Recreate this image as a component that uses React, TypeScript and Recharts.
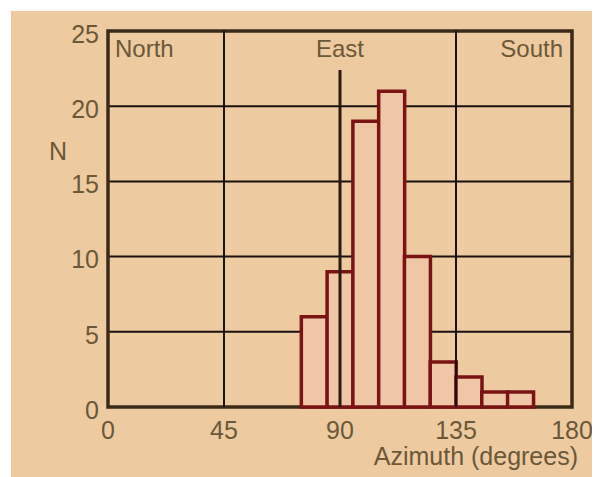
import React from "react";
import {
  BarChart,
  Bar,
  XAxis,
  YAxis,
  CartesianGrid,
  ReferenceLine,
  ReferenceArea,
  Label,
} from "recharts";

// histogram bins, 10 degrees wide, keyed by bin centre
const binCenters = [80, 90, 100, 110, 120, 130, 140, 150, 160];
const counts = [6, 9, 19, 21, 10, 3, 2, 1, 1];

const xTicks = [0, 45, 90, 135, 180];
const yTicks = [0, 5, 10, 15, 20, 25];
const gridAngles = [45, 135];
const directions = ["North", "East", "South"];
const directionAngles = [0, 90, 180];
const eastLineTop = 22.4;

const BG = "#eecaa0";
const TEXT = "#6b5838";
const BAR = "#7a1414";
const FRAME = "#3b2a18";
const FONT = "'Liberation Sans', Arial, sans-serif";

const data = binCenters.map((c, i) => ({ azimuth: c, n: counts[i] }));

const dirLabel = (idx: number) => (p: any) => {
  const vb = p.viewBox;
  const anchor = idx === 0 ? "start" : idx === 1 ? "middle" : "end";
  const dx = idx === 0 ? 7 : idx === 1 ? 0 : -9;
  return (
    <text
      x={vb.x + dx}
      y={vb.y + 26}
      textAnchor={anchor}
      fill={TEXT}
      fontSize={24}
      fontFamily={FONT}
    >
      {directions[idx]}
    </text>
  );
};

export default function App() {
  return (
    <div style={{ marginLeft: 3, marginTop: 3, width: 589, height: 466, background: BG }}>
      <BarChart
        width={589}
        height={466}
        data={data}
        margin={{ top: 20, right: 28, left: 0, bottom: 21 }}
        barCategoryGap={0}
        barGap={0}
        style={{ fontFamily: FONT }}
      >
        <CartesianGrid
          vertical={false}
          stroke="#1a1010"
          strokeWidth={2}
          strokeOpacity={1}
        />
        {gridAngles.map((a) => (
          <ReferenceLine key={a} x={a} stroke="#1a1010" strokeWidth={2} />
        ))}
        <ReferenceLine
          segment={[
            { x: 90, y: 0 },
            { x: 90, y: eastLineTop },
          ]}
          stroke="#2a1a10"
          strokeWidth={3}
        />
        <ReferenceArea
          x1={0}
          x2={180}
          y1={0}
          y2={25}
          fill="none"
          stroke={FRAME}
          strokeWidth={3.5}
          strokeOpacity={1}
        />
        {directionAngles.map((a, i) => (
          <ReferenceLine
            key={"d" + a}
            segment={[
              { x: a, y: 25 },
              { x: a, y: 25 },
            ]}
            stroke="none"
            label={{ content: dirLabel(i) }}
          />
        ))}
        <XAxis
          dataKey="azimuth"
          type="number"
          domain={[0, 180]}
          ticks={xTicks}
          allowDataOverflow
          axisLine={false}
          tickLine={false}
          tickSize={6}
          tickMargin={8}
          height={49}
          tick={{ fill: TEXT, fontSize: 25 }}
        >
          <Label
            content={(p: any) => (
              <text
                x={p.viewBox.x + p.viewBox.width + 6}
                y={p.viewBox.y + 58}
                textAnchor="end"
                fill={TEXT}
                fontSize={25}
                fontFamily={FONT}
              >
                Azimuth (degrees)
              </text>
            )}
          />
        </XAxis>
        <YAxis
          type="number"
          domain={[0, 25]}
          ticks={yTicks}
          axisLine={false}
          tickLine={false}
          tickSize={6}
          tickMargin={3}
          width={97}
          tick={{ fill: TEXT, fontSize: 25, dy: 3 }}
        >
          <Label
            content={(p: any) => (
              <text
                x={47}
                y={p.viewBox.y + 129}
                textAnchor="middle"
                fill={TEXT}
                fontSize={25}
                fontFamily={FONT}
              >
                N
              </text>
            )}
          />
        </YAxis>
        <Bar
          dataKey="n"
          fill="#f0c7a6"
          stroke={BAR}
          strokeWidth={3.5}
          isAnimationActive={false}
        />
      </BarChart>
    </div>
  );
}
